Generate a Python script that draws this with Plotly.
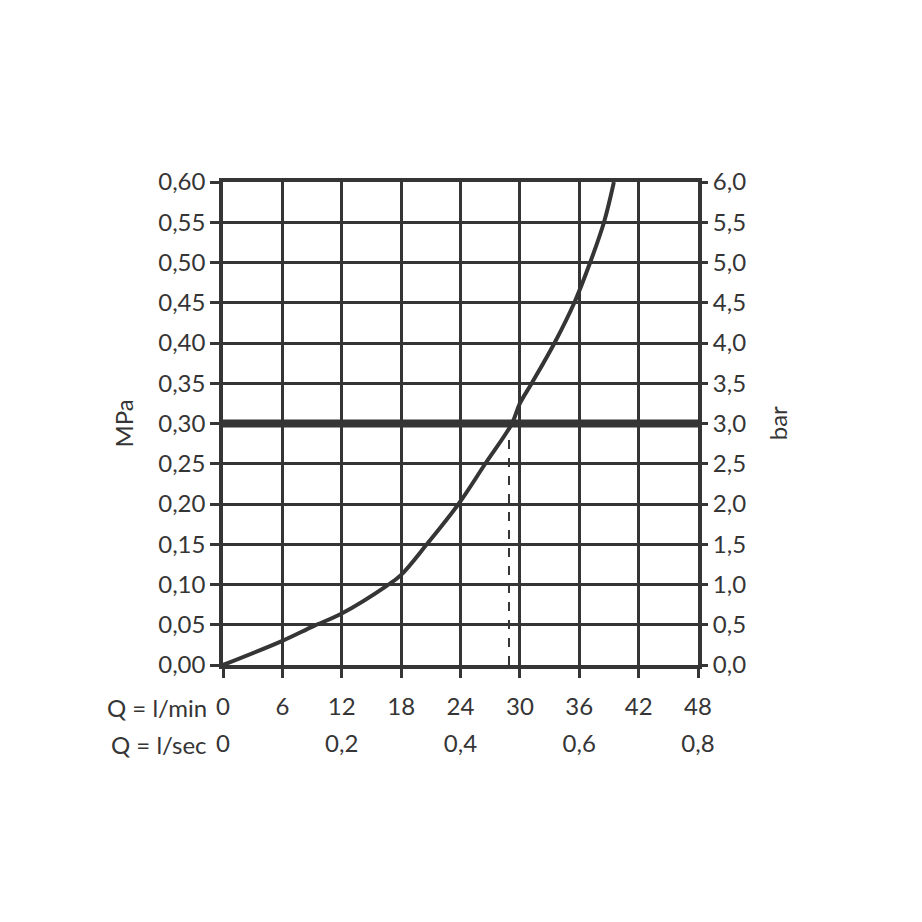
# Pressure / flow chart (MPa and bar vs. l/min and l/sec)
import plotly.graph_objects as go

# flow rate in l/min and pressure in MPa
flow_lpm = [0, 6, 9.1, 12, 16.5, 18, 20.6, 23.8, 26.5, 29.2, 30, 31.2, 33.5, 35.5, 37.1, 38.5, 39.5]
pressure_mpa = [0, 0.030, 0.048, 0.064, 0.098, 0.112, 0.15, 0.20, 0.25, 0.30, 0.325, 0.35, 0.40, 0.45, 0.50, 0.55, 0.60]

ref_pressure = 0.30   # heavy line
ref_flow = 28.9       # dashed drop line

lpm_ticks = [0, 6, 12, 18, 24, 30, 36, 42, 48]
lsec_ticks = [0, 12, 24, 36, 48]
lsec_text = ["0", "0,2", "0,4", "0,6", "0,8"]
bar_ticks = [0, 0.5, 1, 1.5, 2, 2.5, 3, 3.5, 4, 4.5, 5, 5.5, 6]

ink = "#353535"
font = dict(family="Lato, DejaVu Sans, sans-serif", size=24, color=ink)

fig = go.Figure()

fig.add_trace(go.Scatter(x=[0, 48], y=[ref_pressure, ref_pressure], mode="lines",
                         line=dict(color=ink, width=8), hoverinfo="skip"))
fig.add_trace(go.Scatter(x=[ref_flow, ref_flow], y=[0, ref_pressure], mode="lines",
                         line=dict(color=ink, width=2, dash="dash"), hoverinfo="skip"))
fig.add_trace(go.Scatter(x=flow_lpm, y=pressure_mpa, mode="lines",
                         line=dict(color=ink, width=4, shape="spline", smoothing=1.0)))
# dummy traces so the secondary axes get drawn
fig.add_trace(go.Scatter(x=[0], y=[0], yaxis="y2", mode="markers",
                         marker=dict(opacity=0), hoverinfo="skip"))
fig.add_trace(go.Scatter(x=[0], y=[0], xaxis="x2", mode="markers",
                         marker=dict(opacity=0), hoverinfo="skip"))

axis_common = dict(showline=True, linecolor=ink, linewidth=3.5, mirror=True,
                   showgrid=True, gridcolor=ink, gridwidth=2.5, zeroline=False,
                   ticks="outside", ticklen=9, tickwidth=2.5, tickcolor=ink,
                   tickfont=font)

fig.update_layout(
    width=922, height=922,
    paper_bgcolor="white", plot_bgcolor="white",
    margin=dict(l=215, r=232, t=174, b=265),
    showlegend=False,
    separators=",.",
    xaxis=dict(range=[0, 48], tickvals=lpm_ticks, ticklabelstandoff=8, **axis_common),
    xaxis2=dict(range=[0, 48], overlaying="x", side="bottom", anchor="y",
                tickvals=lsec_ticks, ticktext=lsec_text, showgrid=False,
                showline=False, ticks="", tickfont=font, ticklabelstandoff=62),
    yaxis=dict(range=[0, 0.6], dtick=0.05, tickformat=".2f", **axis_common),
    yaxis2=dict(range=[0, 6], tickvals=bar_ticks, tickformat=".1f", overlaying="y",
                side="right", showgrid=False, showline=False, zeroline=False,
                ticks="outside", ticklen=9, tickwidth=2.5, tickcolor=ink, tickfont=font),
    annotations=[
        dict(text="MPa", xref="paper", yref="paper", x=-0.2105, y=0.5, textangle=-90,
             showarrow=False, font=font, xanchor="center", yanchor="middle"),
        dict(text="bar", xref="paper", yref="paper", x=1.168, y=0.5, textangle=-90,
             showarrow=False, font=font, xanchor="center", yanchor="middle"),
        dict(text="Q = l/min", xref="paper", yref="paper", x=-0.0295, y=-0.089,
             showarrow=False, font=font, xanchor="right", yanchor="middle"),
        dict(text="Q = l/sec", xref="paper", yref="paper", x=-0.0295, y=-0.1656,
             showarrow=False, font=font, xanchor="right", yanchor="middle"),
    ],
)

fig.write_html("out.html")
